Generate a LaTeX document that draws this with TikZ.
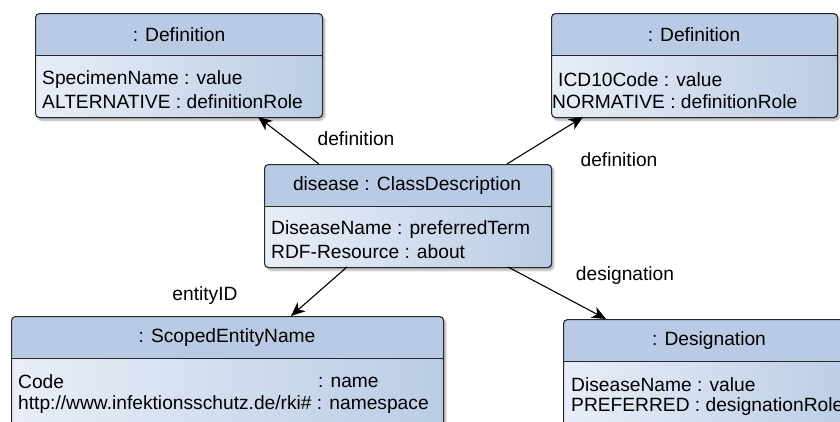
\documentclass[tikz,border=0pt]{standalone}
\usepackage{fontspec}
\setmainfont{Liberation Sans}
\usetikzlibrary{shadows.blur,arrows.meta,calc}

\definecolor{headfill}{RGB}{185,203,228}
\definecolor{bodyleft}{RGB}{233,238,248}
\definecolor{bodyright}{RGB}{186,204,229}
\definecolor{edge}{RGB}{40,40,40}

\tikzset{
  x=1pt, y=1pt,
  every node/.style={font=\fontsize{19.2}{22}\selectfont, inner sep=0pt},
  objbox/.style={
    draw=edge, line width=1.1pt, rounded corners=4pt,
    anchor=north west, minimum width=#1, minimum height=110,
    blur shadow={shadow xshift=2pt, shadow yshift=-2.5pt, shadow blur steps=6, shadow opacity=35},
    path picture={
      \fill[headfill] (path picture bounding box.north west) rectangle
        ($(path picture bounding box.north east)+(0,-42)$);
      \shade[left color=bodyleft, right color=bodyright]
        ($(path picture bounding box.north west)+(0,-42)$) rectangle
        (path picture bounding box.south east);
      \draw[edge, line width=1.1pt]
        ($(path picture bounding box.north west)+(0,-42)$) --
        ($(path picture bounding box.north east)+(0,-42)$);
    }},
  objbox/.default=287,
  headtext/.style={anchor=center},
  attr/.style={anchor=west},
  link/.style={draw=black, line width=1.1pt, -{Stealth[length=14pt, width=12pt, inset=4pt]}},
  rolelabel/.style={anchor=center}
}

\begin{document}
\begin{tikzpicture}
\useasboundingbox (0,0) rectangle (840,-421);
\clip (0,0) rectangle (840,-421);

% ---- object boxes ----
\node[objbox=287, minimum height=104] (defA) at (35,-13) {};
\node[objbox=286, minimum height=104] (defB) at (551,-13) {};
\node[objbox=287, minimum height=103] (cls)  at (264,-164) {};
\node[objbox=432, minimum height=130] (sen)  at (11,-316) {};
\node[objbox=292, minimum height=130] (dsg)  at (563,-319) {};

% ---- headers ----
\node[headtext] (defAh) at (179,-35) {: Definition};
\node[headtext] (defBh) at (694,-35) {: Definition};
\node[headtext] (clsh)  at (407,-186) {disease : ClassDescription};
\node[headtext] (senh)  at (227,-338) {: ScopedEntityName};
\node[headtext] (dsgh)  at (709,-341) {: Designation};

% ---- attributes ----
\node[attr] (defA1) at (42,-80)  {SpecimenName : value};
\node[attr] (defA2) at (42,-102) {ALTERNATIVE : definitionRole};
\node[attr] (defB1) at (558,-80)  {ICD10Code : value};
\node[attr] (defB2) at (552,-102) {NORMATIVE : definitionRole};
\node[attr] (cls1)  at (271,-230) {DiseaseName : preferredTerm};
\node[attr] (cls2)  at (271,-252) {RDF-Resource : about};
\node[attr] (sen1)  at (18,-382)  {Code};
\node[attr] (sen1r) at (318,-382) {: name};
\node[attr] (sen2)  at (18,-405)  {http://www.infektionsschutz.de/rki\# : namespace};
\node[attr] (dsg1)  at (571,-385) {DiseaseName : value};
\node[attr] (dsg2)  at (571,-407) {PREFERRED : designationRole};

% ---- connector end points on the box borders ----
\coordinate (aS) at (319,-164);
\coordinate (aT) at (258,-117);
\coordinate (bS) at (507,-164);
\coordinate (bT) at (583,-117);
\coordinate (cS) at (347,-267);
\coordinate (cT) at (291,-316);
\coordinate (dS) at (508,-267);
\coordinate (dT) at (606,-319);

\draw[link] (aS) -- (aT);
\draw[link] (bS) -- (bT);
\draw[link] (cS) -- (cT);
\draw[link] (dS) -- (dT);

% ---- role labels ----
\node[rolelabel] (lblA) at (356,-139) {definition};
\node[rolelabel] (lblB) at (619,-160) {definition};
\node[rolelabel] (lblC) at (205,-296) {entityID};
\node[rolelabel] (lblD) at (625,-276) {designation};
\end{tikzpicture}
\end{document}
